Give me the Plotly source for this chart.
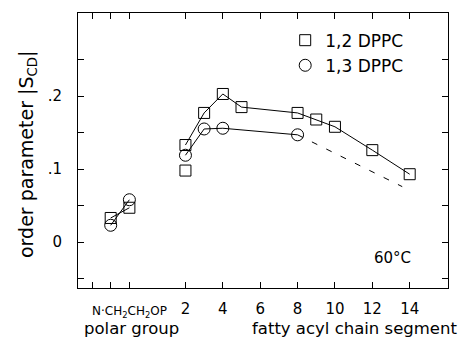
import plotly.graph_objects as go

# 1,2 DPPC (squares)
polar_x = [-2, -1]
dppc12_polar = [0.033, 0.047]
dppc13_polar = [0.023, 0.058]

chain_x12 = [2, 3, 4, 5, 8, 9, 10, 12, 14]
dppc12_chain = [0.133, 0.177, 0.203, 0.185, 0.177, 0.168, 0.158, 0.126, 0.093]
extra_x12 = [2]
extra_y12 = [0.098]

chain_x13 = [2, 3, 4, 8]
dppc13_chain = [0.119, 0.155, 0.156, 0.147]
dash_x13 = [8, 13.6]
dash_y13 = [0.147, 0.076]

xtick_vals = [-3, -2, -1, 2, 4, 6, 8, 10, 12, 14]
xtick_text = ["", "", "", "2", "4", "6", "8", "10", "12", "14"]
ytick_vals = [-0.05, 0, 0.05, 0.1, 0.15, 0.2, 0.25]
ytick_text = ["", "0", "", ".1", "", ".2", ""]

FONT = "DejaVu Sans"
sq = dict(symbol="square-open", size=11, color="black", line=dict(width=1, color="black"))
ci = dict(symbol="circle-open", size=12, color="black", line=dict(width=1, color="black"))
ln = dict(color="black", width=1)

fig = go.Figure()
fig.add_trace(go.Scatter(x=polar_x, y=dppc12_polar, mode="lines+markers", marker=sq, line=ln, showlegend=False))
fig.add_trace(go.Scatter(x=polar_x, y=dppc13_polar, mode="lines+markers", marker=ci, line=ln, showlegend=False))
fig.add_trace(go.Scatter(x=dash_x13, y=dash_y13, mode="lines", line=dict(color="black", width=1, dash="6px,10px"), showlegend=False))
fig.add_trace(go.Scatter(x=chain_x12, y=dppc12_chain, mode="lines+markers", marker=sq, line=ln, showlegend=False))
fig.add_trace(go.Scatter(x=chain_x13, y=dppc13_chain, mode="lines+markers", marker=ci, line=ln, showlegend=False))
fig.add_trace(go.Scatter(x=extra_x12, y=extra_y12, mode="markers", marker=sq, showlegend=False))
# legend-only entries (markers only, as in the reference)
fig.add_trace(go.Scatter(x=[None], y=[None], mode="markers", marker=sq, name="1,2 DPPC"))
fig.add_trace(go.Scatter(x=[None], y=[None], mode="markers", marker=ci, name="1,3 DPPC"))

fig.update_layout(
    width=462, height=341,
    margin=dict(l=78, r=14, t=13, b=53),
    paper_bgcolor="white", plot_bgcolor="white",
    font=dict(family=FONT, size=14, color="black"),
    legend=dict(x=0.56, y=0.965, xanchor="left", yanchor="top", bgcolor="rgba(0,0,0,0)",
                font=dict(size=17), itemsizing="trace", tracegroupgap=0),
    xaxis=dict(range=[-3.75, 16.05], tickvals=xtick_vals, ticktext=xtick_text,
               ticks="inside", ticklen=6, tickcolor="black", showline=True, linecolor="black",
               linewidth=1, mirror="ticks", showgrid=False, zeroline=False,
               ticklabelstandoff=7, tickfont=dict(size=15)),
    yaxis=dict(range=[-0.063, 0.314], tickvals=ytick_vals, ticktext=ytick_text,
               ticks="inside", ticklen=6, tickcolor="black", showline=True, linecolor="black",
               linewidth=1, mirror="ticks", showgrid=False, zeroline=False,
               ticklabelstandoff=12, tickfont=dict(size=15)),
    annotations=[
        dict(text="order parameter |S<sub>CD</sub>|", x=-0.138, y=0.487, xref="paper", yref="paper",
             xanchor="center", yanchor="middle", textangle=-90, showarrow=False, font=dict(size=19)),
        dict(text="N·CH<sub>2</sub>CH<sub>2</sub>OP", x=-1, y=-0.05, xref="x", yref="paper",
             xanchor="center", yanchor="top", showarrow=False, font=dict(size=12)),
        dict(text="polar group", x=0.01, y=-0.149, xref="paper", yref="paper",
             xanchor="left", yanchor="middle", showarrow=False, font=dict(size=16.5)),
        dict(text="fatty acyl chain segment", x=1.03, y=-0.149, xref="paper", yref="paper",
             xanchor="right", yanchor="middle", showarrow=False, font=dict(size=16.5)),
        dict(text="60°C", x=0.905, y=0.11, xref="paper", yref="paper",
             xanchor="right", yanchor="middle", showarrow=False, font=dict(size=15)),
    ],
)

fig.write_html("out.html")
